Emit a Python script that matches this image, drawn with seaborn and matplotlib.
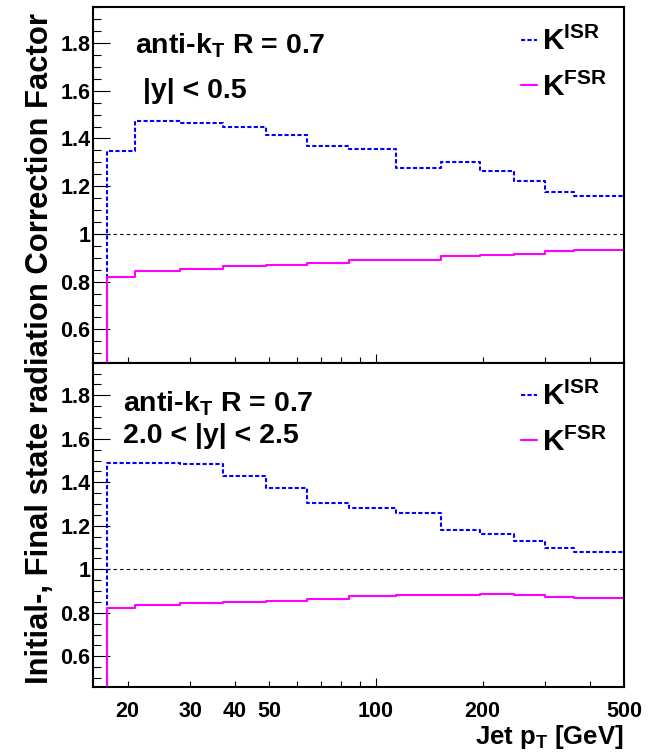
import matplotlib
matplotlib.use('Agg')
import matplotlib.pyplot as plt
import matplotlib.ticker as mticker
import pandas as pd
import seaborn as sns

# jet pT bin edges [GeV]
pt_edges = [17.5, 21, 28, 37, 49, 64, 84, 114, 153, 196, 245, 300, 362, 500]

# |y| < 0.5
isr_central = [1.348, 1.474, 1.467, 1.448, 1.414, 1.369, 1.355, 1.275, 1.301, 1.264, 1.221, 1.177, 1.158]
fsr_central = [0.821, 0.843, 0.853, 0.864, 0.871, 0.880, 0.892, 0.891, 0.906, 0.913, 0.917, 0.927, 0.931]

# 2.0 < |y| < 2.5
isr_forward = [1.491, 1.488, 1.485, 1.427, 1.373, 1.304, 1.284, 1.259, 1.181, 1.164, 1.130, 1.097, 1.078]
fsr_forward = [0.820, 0.834, 0.843, 0.851, 0.855, 0.865, 0.878, 0.880, 0.883, 0.888, 0.883, 0.871, 0.870]

x_major = [100]
x_minor = [20, 30, 40, 50, 60, 70, 80, 90, 200, 300, 400, 500]
x_labels = {20: '20', 30: '30', 40: '40', 50: '50', 100: '100', 200: '200', 500: '500'}
y_major = [0.6, 0.8, 1.0, 1.2, 1.4, 1.6, 1.8]

panels = [
    ('anti-k$_{\\rm T}$ R = 0.7', '|y| < 0.5', isr_central, fsr_central),
    ('anti-k$_{\\rm T}$ R = 0.7', '2.0 < |y| < 2.5', isr_forward, fsr_forward),
]

sns.set_style('ticks', rc={'axes.edgecolor': 'black', 'xtick.color': 'black', 'ytick.color': 'black',
                           'text.color': 'black', 'axes.labelcolor': 'black'})
plt.rcParams['font.family'] = ['Liberation Sans', 'DejaVu Sans']
plt.rcParams['font.weight'] = 'bold'
plt.rcParams['mathtext.fontset'] = 'custom'
plt.rcParams['mathtext.rm'] = 'Liberation Sans:bold'
plt.rcParams['mathtext.bf'] = 'Liberation Sans:bold'
plt.rcParams['mathtext.it'] = 'Liberation Sans:bold'

W, H = 658, 753


def step_frame(values):
    # histogram outline: starts from zero at the first edge
    x = [pt_edges[0]] + pt_edges
    y = [0.0] + list(values) + [values[-1]]
    return pd.DataFrame({'pt': x, 'k': y})


def fx(px):
    return px / W


def fy(py):
    return 1 - py / H


fig = plt.figure(figsize=(W / 100, H / 100), dpi=100)
left, right = 93.3, 624
ax_top = fig.add_axes([fx(left), fy(362.7), (right - left) / W, (362.7 - 7.3) / H])
ax_bot = fig.add_axes([fx(left), fy(686.7), (right - left) / W, (686.7 - 362.7) / H])

text_pos = [((135, 53.3), (143, 98.3), 27), ((122.7, 411.7), (122.7, 443.3), 382)]

for i, (ax, (line1, line2, isr, fsr)) in enumerate(zip([ax_top, ax_bot], panels)):
    ax.axhline(1.0, color='black', lw=0.8, linestyle=(0, (3, 3)))
    sns.lineplot(data=step_frame(isr), x='pt', y='k', ax=ax, estimator=None, sort=False,
                 drawstyle='steps-post', color='#0000ff', lw=1.5, linestyle=(0, (2, 1.1)),
                 label='K$^{\\rm ISR}$')
    sns.lineplot(data=step_frame(fsr), x='pt', y='k', ax=ax, estimator=None, sort=False,
                 drawstyle='steps-post', color='#ff00ff', lw=1.5, label='K$^{\\rm FSR}$')

    ax.set_xscale('log')
    ax.set_xlim(16, 500)
    ax.set_ylim(0.46, 1.95)
    ax.set_xlabel('')
    ax.set_ylabel('')

    ax.xaxis.set_major_locator(mticker.FixedLocator(x_major))
    ax.xaxis.set_minor_locator(mticker.FixedLocator(x_minor))
    fmt = mticker.FuncFormatter(lambda v, p: x_labels.get(int(round(v)), ''))
    ax.xaxis.set_major_formatter(fmt)
    ax.xaxis.set_minor_formatter(fmt)
    ax.yaxis.set_major_locator(mticker.FixedLocator(y_major))
    ax.yaxis.set_minor_locator(mticker.MultipleLocator(0.05))
    ax.yaxis.set_major_formatter(mticker.FuncFormatter(lambda v, p: f'{v:g}'))

    ax.tick_params(axis='both', which='both', direction='in', top=False, right=False,
                   width=0.8, labelsize=15.5)
    ax.tick_params(axis='y', which='major', length=12, pad=2)
    ax.tick_params(axis='y', which='minor', length=6)
    ax.tick_params(axis='x', which='major', length=6.5, pad=10)
    ax.tick_params(axis='x', which='minor', length=4, pad=10)
    if i == 0:
        ax.tick_params(axis='x', which='both', labelbottom=False)
    for lab in ax.get_xticklabels(which='both') + ax.get_yticklabels():
        lab.set_fontweight('bold')
    for sp in ax.spines.values():
        sp.set_linewidth(1.5)
        sp.set_color('black')

    (x1, y1), (x2, y2), leg_top = text_pos[i]
    fig.text(fx(x1), fy(y1), line1, ha='left', va='baseline', fontsize=20.5, fontweight='bold')
    fig.text(fx(x2), fy(y2), line2, ha='left', va='baseline', fontsize=20.5, fontweight='bold')

    ax.legend(loc='upper left', bbox_to_anchor=(fx(521), fy(leg_top)), bbox_transform=fig.transFigure,
              frameon=False, prop={'size': 21.5, 'weight': 'bold'}, handlelength=0.55, handletextpad=0.15,
              borderpad=0, borderaxespad=0, labelspacing=0.55)

fig.text(fx(40), fy(348), 'Initial-, Final state radiation Correction Factor',
         rotation=90, ha='center', va='center', fontsize=22.3, fontweight='bold')
fig.text(fx(624), fy(737), 'Jet p$_{\\rm T}$ [GeV]', ha='right', va='center', fontsize=18.5,
         fontweight='bold')

fig.savefig('out.png', dpi=100)
